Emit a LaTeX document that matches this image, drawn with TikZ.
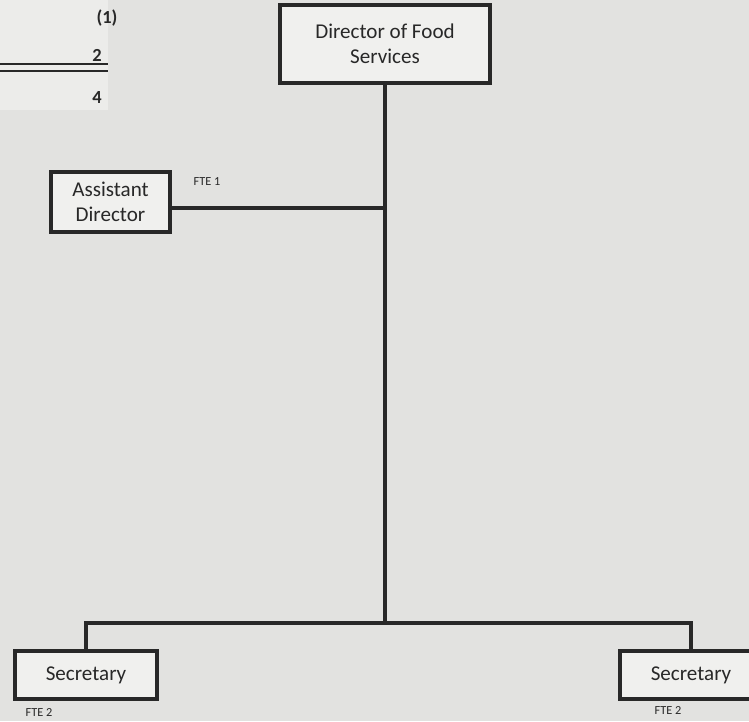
\documentclass[tikz,border=0pt]{standalone}
\usepackage{fontspec}
\setmainfont{Carlito}
\definecolor{pagegray}{RGB}{226,226,224}
\definecolor{cellgray}{RGB}{236,236,234}
\definecolor{boxfill}{RGB}{240,240,238}
\definecolor{inkdark}{RGB}{40,40,40}

\begin{document}
\begin{tikzpicture}[x=0.02cm, y=-0.02cm,
    orgbox/.style={draw=inkdark, line width=1.9pt, fill=boxfill, align=center,
                   font=\fontsize{12}{14.5}\selectfont, text=inkdark, inner sep=0pt},
    link/.style={draw=inkdark, line width=1.9pt},
    fte/.style={font=\fontsize{7}{8}\selectfont, text=inkdark, inner sep=0pt},
    tally/.style={font=\bfseries\fontsize{10.5}{12}\selectfont, text=inkdark, inner sep=0pt}]
            % Fondo
            \fill[pagegray] (0,0) rectangle (749,721);
            \fill[cellgray] (0,0) rectangle (108,110);
            \clip (0,0) rectangle (749,721);

            % Recuento
            \node[tally] (t1) at (107,18) {(1)};
            \node[tally] (t2) at (97,55) {2};
            \node[tally] (t4) at (97,98) {4};
            \draw[inkdark, line width=1.4pt] (0,64) -- (108,64);
            \draw[inkdark, line width=1.4pt] (0,71) -- (108,71);

            % Cajas
            \node[orgbox, minimum width=4.2cm, minimum height=1.56cm] (dir) at (385,44)
                {Director of Food\\Services};
            \node[orgbox, minimum width=2.38cm, minimum height=1.2cm] (asst) at (110.5,202)
                {Assistant\\Director};
            \node[orgbox, minimum width=2.84cm, minimum height=0.96cm] (secl) at (86,675) {Secretary};
            \node[orgbox, minimum width=2.84cm, minimum height=0.96cm] (secr) at (691,675) {Secretary};

            % Etiquetas FTE
            \node[fte] (fte1) at (207,182) {FTE 1};
            \node[fte] (fte2l) at (39,712) {FTE 2};
            \node[fte] (fte2r) at (668,710) {FTE 2};

            % Lineas
            \coordinate (ad) at (385,208);
            \coordinate (split) at (385,623);
            \draw[link] (dir.south) -- (split);
            \draw[link] (ad -| asst.east) -- (ad);
            \draw[link] (secl.north) |- (split) -| (secr.north);
        \end{tikzpicture}
\end{document}
